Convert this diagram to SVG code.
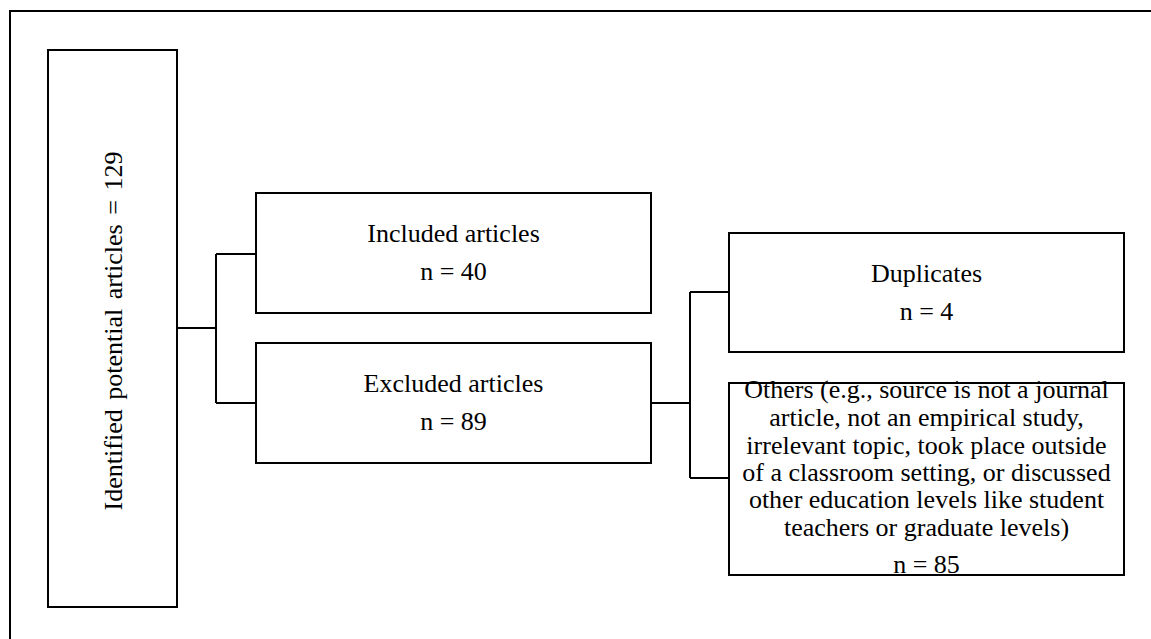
<svg xmlns="http://www.w3.org/2000/svg" width="1151" height="639" viewBox="0 0 1151 639">
<style>
.box{fill:#fff;stroke:#000;stroke-width:2}
.ln{fill:none;stroke:#000;stroke-width:2}
text{font-family:"Liberation Serif","Times New Roman",serif;font-size:26px;fill:#000;text-anchor:middle}
</style>
<rect x="0" y="0" width="1151" height="639" fill="#fff"/>
<rect x="10" y="11" width="1200" height="700" class="ln"/>
<g id="connectors">
<path class="ln" d="M177,328 H216 M216,254 V403 M216,254 H256 M216,403 H256"/>
<path class="ln" d="M651,403 H690 M690,292 V478 M690,292 H729 M690,478 H729"/>
</g>
<g id="identified">
<rect class="box" x="48" y="50" width="129" height="557"/>
<text transform="translate(122,331) rotate(-90)" x="0" y="0" word-spacing="3">Identified potential articles = 129</text>
</g>
<g id="included">
<rect class="box" x="256" y="193" width="395" height="120"/>
<text x="453.5" y="242">Included articles</text>
<text x="453.5" y="280">n = 40</text>
</g>
<g id="excluded">
<rect class="box" x="256" y="343" width="395" height="120"/>
<text x="453.5" y="392">Excluded articles</text>
<text x="453.5" y="430">n = 89</text>
</g>
<g id="duplicates">
<rect class="box" x="729" y="233" width="395" height="119"/>
<text x="926.5" y="282">Duplicates</text>
<text x="926.5" y="320">n = 4</text>
</g>
<g id="others">
<rect class="box" x="729" y="383" width="395" height="192"/>
<text x="926.5" y="398">Others (e.g., source is not a journal</text>
<text x="926.5" y="426">article, not an empirical study,</text>
<text x="926.5" y="454">irrelevant topic, took place outside</text>
<text x="926.5" y="481">of a classroom setting, or discussed</text>
<text x="926.5" y="508">other education levels like student</text>
<text x="926.5" y="536">teachers or graduate levels)</text>
<text x="926.5" y="573">n = 85</text>
</g>
</svg>
